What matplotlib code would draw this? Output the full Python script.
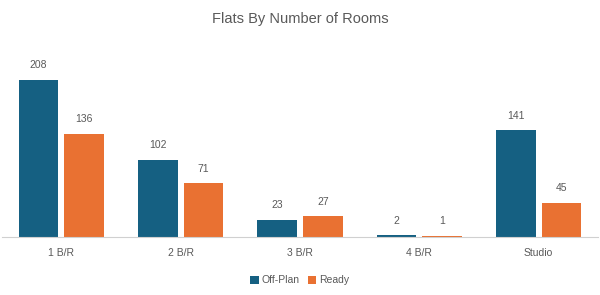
import matplotlib
matplotlib.use("Agg")
import matplotlib.pyplot as plt
import numpy as np

categories = ["1 B/R", "2 B/R", "3 B/R", "4 B/R", "Studio"]
off_plan = [208, 102, 23, 2, 141]
ready = [136, 71, 27, 1, 45]

blue = "#156082"
orange = "#E97132"
grey = "#595959"

plt.rcParams["font.family"] = ["Liberation Sans", "DejaVu Sans"]

fig = plt.figure(figsize=(6, 2.95), dpi=100)
ax = fig.add_axes([0.003, 0.197, 0.994, 0.64])

x = np.arange(len(categories))
w = 0.333
b1 = ax.bar(x - w / 2 - 0.025, off_plan, w, color=blue, label="Off-Plan")
b2 = ax.bar(x + w / 2 + 0.025, ready, w, color=orange, label="Ready")

for bars in (b1, b2):
    for bar in bars:
        h = bar.get_height()
        ax.annotate(str(int(h)), (bar.get_x() + bar.get_width() / 2, h),
                    xytext=(0, 7), textcoords="offset points",
                    ha="center", va="bottom", fontsize=7.5, color=grey)

ax.set_xlim(-0.5, len(categories) - 0.5)
ax.set_ylim(0, 250)
ax.set_xticks(x)
ax.set_xticklabels(categories, fontsize=7.5, color=grey)
ax.tick_params(axis="x", length=0, pad=8)
ax.set_yticks([])
for s in ("top", "right", "left"):
    ax.spines[s].set_visible(False)
ax.spines["bottom"].set_color("#d0d0d0")

fig.text(0.5, 0.935, "Flats By Number of Rooms", ha="center", va="center",
         fontsize=10.5, color=grey)

fig.legend(loc="center", bbox_to_anchor=(0.5, 0.05), ncol=2, frameon=False,
           fontsize=7.5, labelcolor=grey, handlelength=0.8, handleheight=0.8,
           handletextpad=0.3, columnspacing=0.8)

fig.savefig("out.png", dpi=100)
